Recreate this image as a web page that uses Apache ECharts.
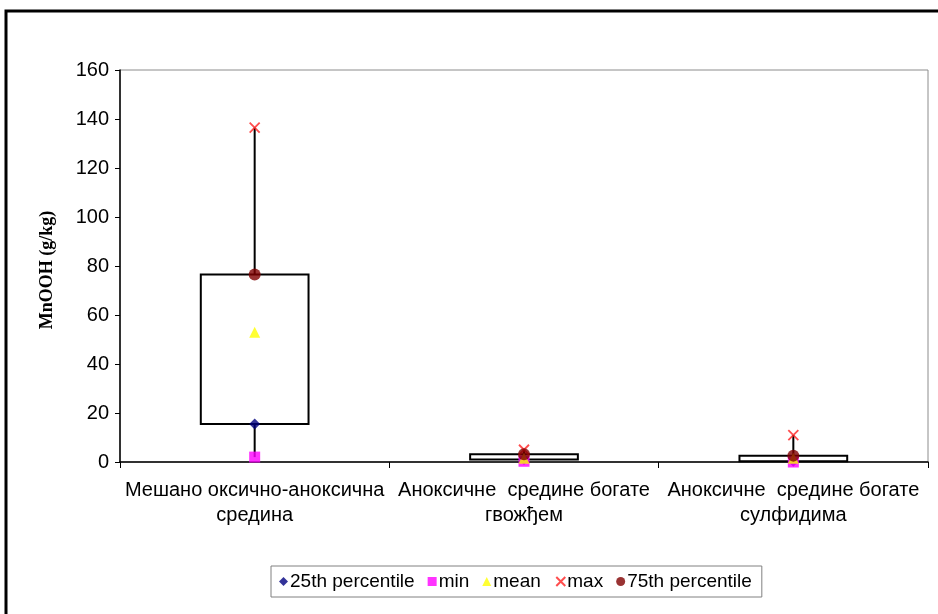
<!DOCTYPE html>
<html>
<head>
<meta charset="utf-8">
<script src="https://cdn.jsdelivr.net/npm/echarts@6/dist/echarts.min.js"></script>
<style>
  html, body { margin: 0; padding: 0; background: #fff; }
  #main { width: 938px; height: 614px; }
</style>
</head>
<body>
<div id="main"></div>
<script>
// категорије
var categories = ['Мешано оксично-аноксична\nсредина', 'Аноксичне  средине богате\nгвожђем', 'Аноксичне  средине богате\nсулфидима'];
// статистике по категорији
var p25 = [15.5, 1.0, 0.3];
var minVals = [2.0, 0.3, 0.0];
var meanVals = [53.0, 1.5, 1.5];
var maxVals = [136.5, 5.0, 11.0];
var p75 = [76.5, 3.2, 2.6];
var yTicks = [0, 160, 20];

var boxData = [];
for (var i = 0; i < categories.length; i++) {
    boxData.push([i, p25[i], p75[i], minVals[i], maxVals[i]]);
}

var myChart = echarts.init(document.getElementById('main'));

var font = 'Liberation Sans, Arial, sans-serif';

var option = {
    animation: false,
    backgroundColor: '#fff',
    graphic: [{
        type: 'rect',
        shape: { x: 6, y: 11, width: 1000, height: 700 },
        style: { fill: 'none', stroke: '#000', lineWidth: 3 },
        z: 100
    }],
    grid: { left: 120, top: 70, right: 10, bottom: 152, show: true, borderColor: '#8c8c8c', borderWidth: 1, backgroundColor: '#fff' },
    legend: {
        bottom: 17,
        left: 271,
        itemGap: 13,
        itemWidth: 9,
        itemHeight: 9,
        padding: [6, 10, 6, 8],
        borderColor: '#808080',
        borderWidth: 1,
        textStyle: { fontFamily: font, fontSize: 19, color: '#000', padding: [0, 0, 0, -3] },
        data: ['25th percentile', 'min', 'mean', 'max', '75th percentile']
    },
    xAxis: {
        type: 'category',
        data: categories,
        boundaryGap: true,
        axisLine: { lineStyle: { color: '#000', width: 1.5 } },
        axisTick: { show: true, inside: false, length: 6, lineStyle: { color: '#000' } },
        axisLabel: {
            fontFamily: font,
            fontSize: 20,
            color: '#000',
            margin: 16,
            lineHeight: 25,
            interval: 0
        },
        splitLine: { show: false }
    },
    yAxis: {
        type: 'value',
        min: yTicks[0],
        max: yTicks[1],
        interval: yTicks[2],
        name: 'MnOOH (g/kg)',
        nameLocation: 'middle',
        nameGap: 64,
        nameTextStyle: { fontFamily: 'Liberation Serif, Times New Roman, serif', fontWeight: 'bold', fontSize: 18, color: '#000', padding: [0, 0, 0, -8] },
        axisLine: { show: true, lineStyle: { color: '#000', width: 1.5 } },
        axisTick: { show: true, length: 5, lineStyle: { color: '#000' } },
        axisLabel: { fontFamily: font, fontSize: 20, color: '#000', margin: 11 },
        splitLine: { show: false }
    },
    series: [
        {
            name: 'box',
            type: 'custom',
            z: 1,
            data: boxData,
            renderItem: function (params, api) {
                var c = api.value(0);
                var lo = api.coord([c, api.value(1)]);
                var hi = api.coord([c, api.value(2)]);
                var mn = api.coord([c, api.value(3)]);
                var mx = api.coord([c, api.value(4)]);
                var w = api.size([1, 0])[0] * 0.4;
                return {
                    type: 'group',
                    children: [
                        { type: 'line', shape: { x1: mx[0], y1: mx[1], x2: hi[0], y2: hi[1] }, style: { stroke: '#000', lineWidth: 2 } },
                        { type: 'line', shape: { x1: lo[0], y1: lo[1], x2: mn[0], y2: mn[1] }, style: { stroke: '#000', lineWidth: 2 } },
                        { type: 'rect', shape: { x: lo[0] - w / 2, y: hi[1], width: w, height: lo[1] - hi[1] }, style: { fill: '#fff', stroke: '#000', lineWidth: 2 } }
                    ]
                };
            }
        },
        {
            name: '25th percentile', type: 'scatter', z: 3,
            symbol: 'diamond', symbolSize: 11,
            itemStyle: { color: '#000080' },
            data: p25
        },
        {
            name: 'min', type: 'scatter', z: 3,
            symbol: 'rect', symbolSize: 11,
            itemStyle: { color: '#ff00ff' },
            data: minVals
        },
        {
            name: 'mean', type: 'scatter', z: 3,
            symbol: 'triangle', symbolSize: 11,
            itemStyle: { color: '#ffff00' },
            data: meanVals
        },
        {
            name: 'max', type: 'scatter', z: 3,
            symbol: 'path://M0,0L10,10M10,0L0,10', symbolSize: 10,
            itemStyle: { color: 'none', borderColor: '#ff2020', borderWidth: 1.8 },
            data: maxVals
        },
        {
            name: '75th percentile', type: 'scatter', z: 3,
            symbol: 'circle', symbolSize: 12,
            itemStyle: { color: '#800000' },
            data: p75
        }
    ]
};

myChart.setOption(option);
</script>
</body>
</html>
